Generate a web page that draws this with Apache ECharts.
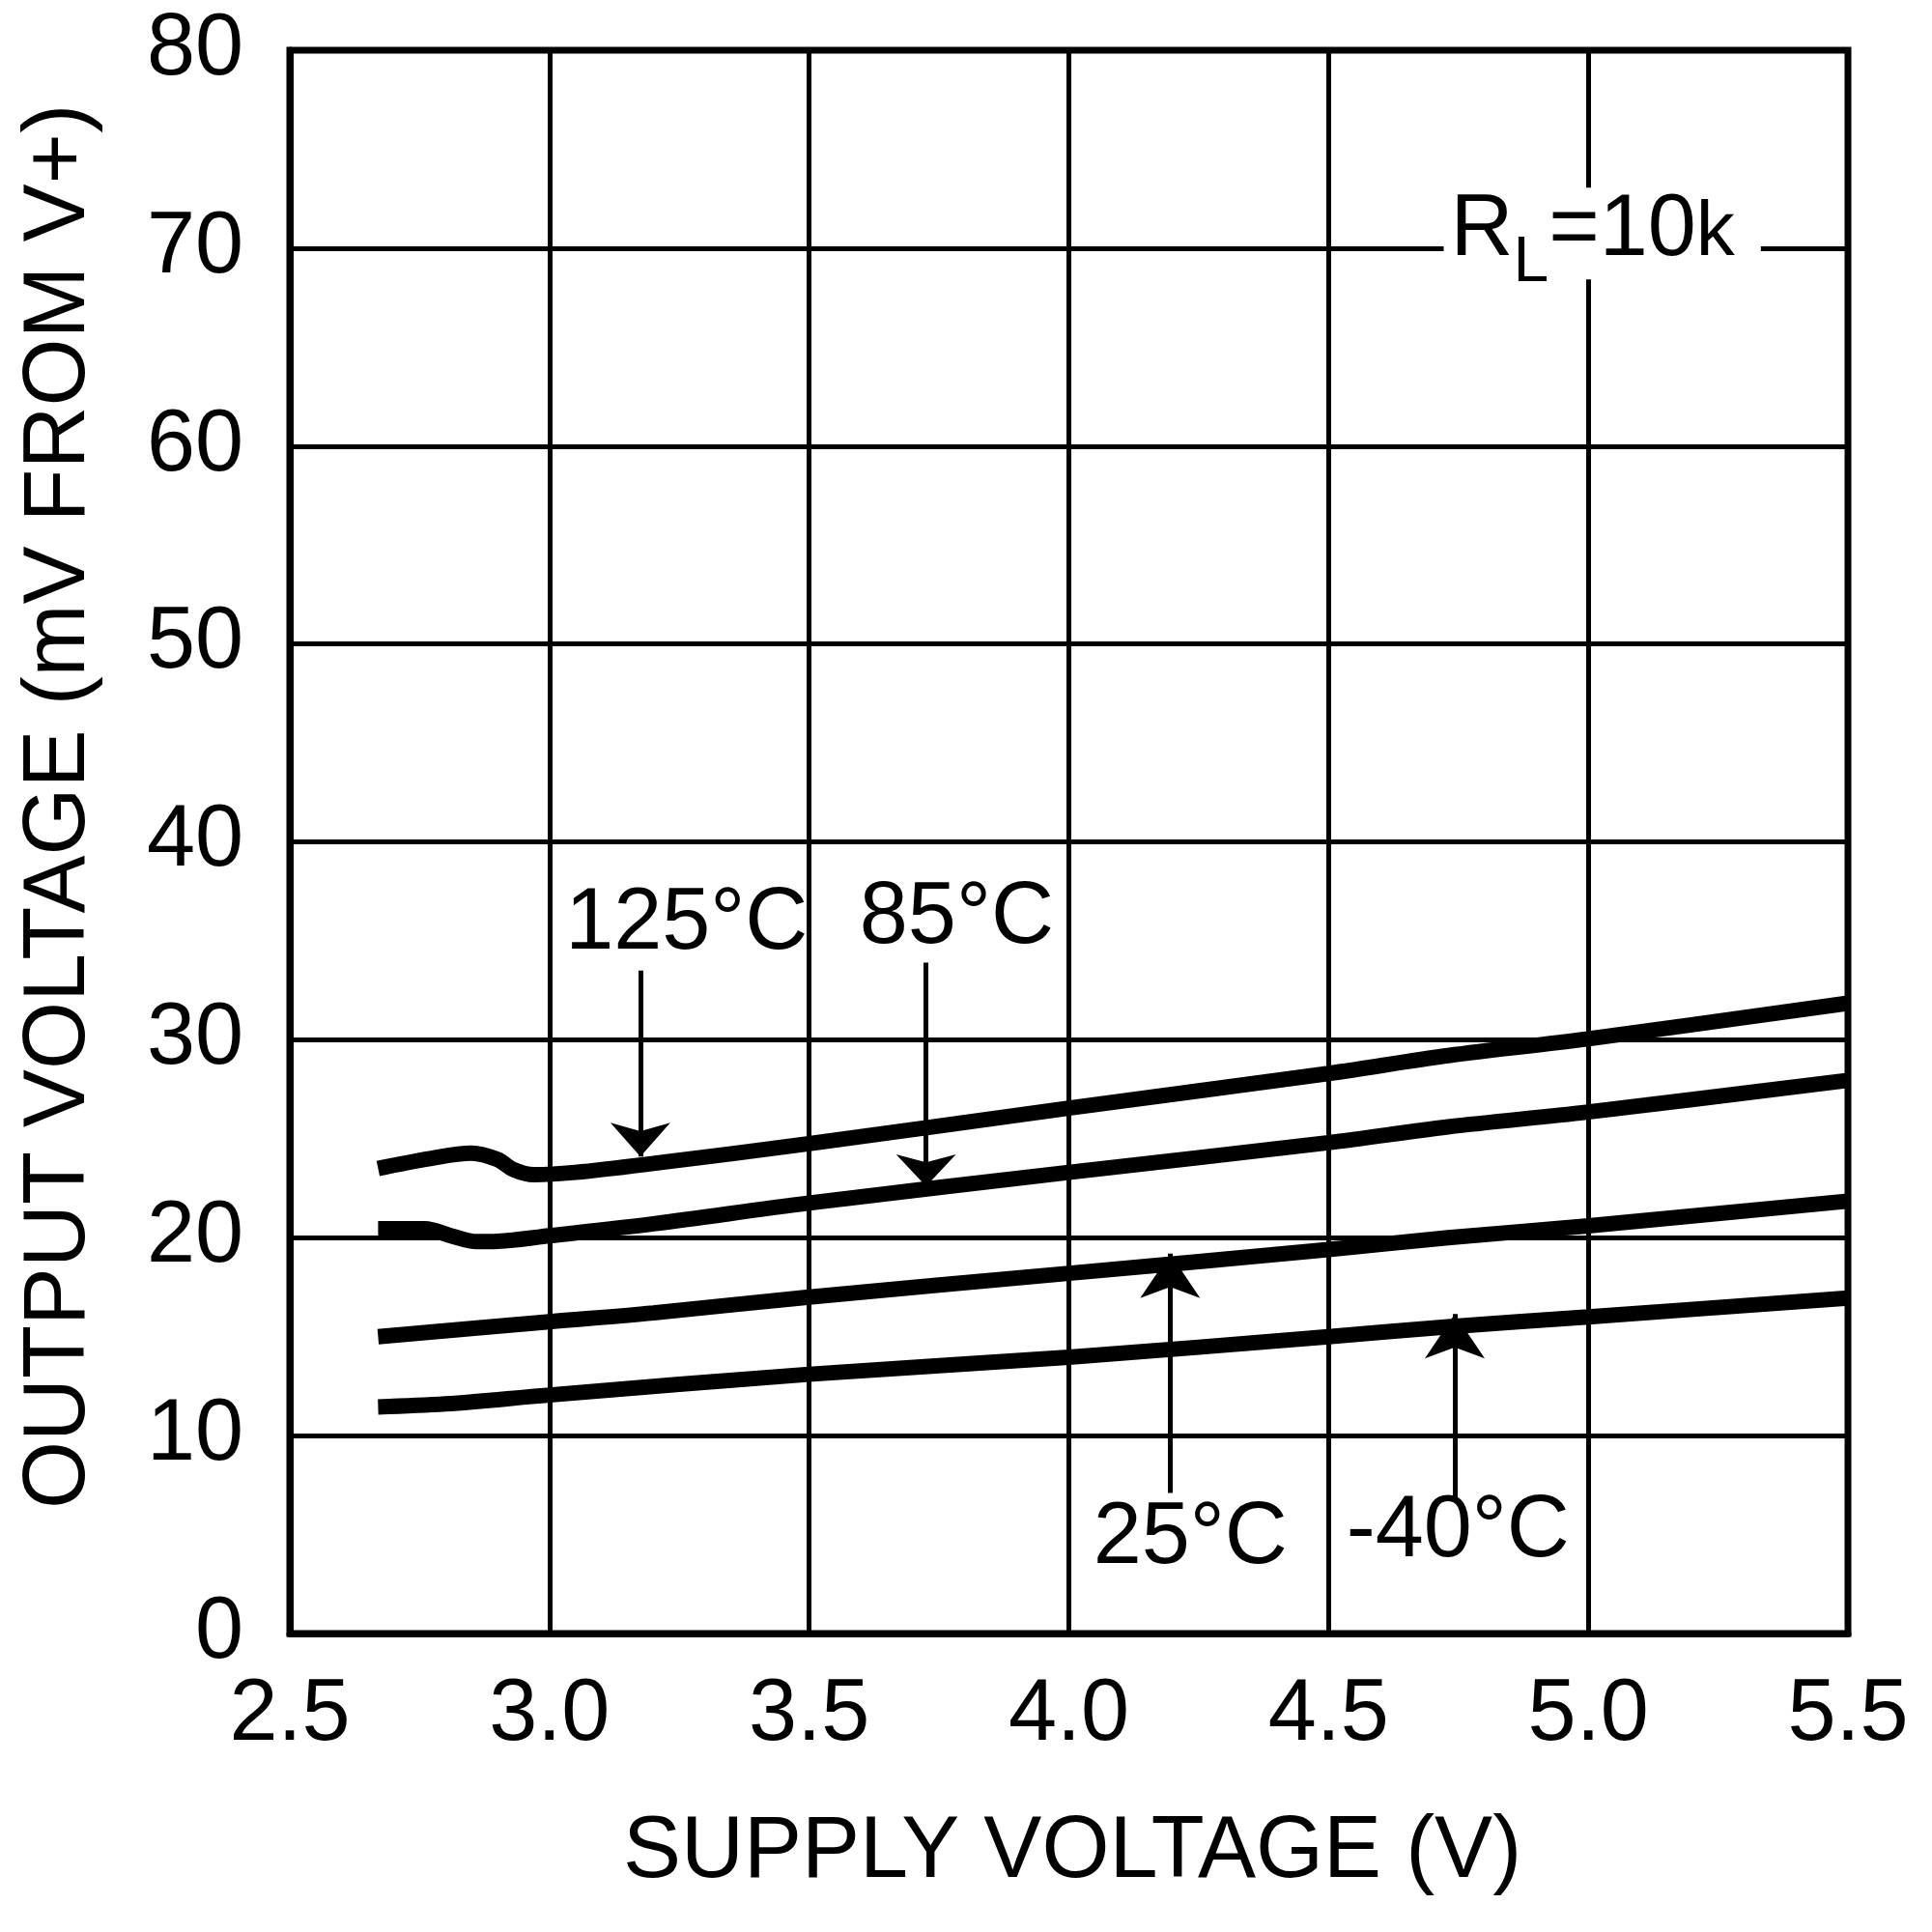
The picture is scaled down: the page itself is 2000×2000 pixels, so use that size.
<!DOCTYPE html>
<html>
<head>
<meta charset="utf-8">
<style>html,body{margin:0;padding:0;background:#fff;}#chart{width:2000px;height:2000px;}</style>
<script src="https://cdn.jsdelivr.net/npm/echarts@6/dist/echarts.min.js"></script>
</head>
<body>
<div id="chart"></div>
<script>
// ---- data (supply voltage V, output voltage mV from V+) ----
const v125 = [2.67, 2.77, 2.85, 2.90, 2.93, 2.97, 3.05, 3.20, 3.50, 4.00, 4.50, 4.73, 5.00, 5.50];
const mv125 = [23.5, 24.0, 24.27, 23.95, 23.45, 23.18, 23.3, 23.75, 24.75, 26.55, 28.3, 29.2, 30.05, 31.85];
const v85 = [2.67, 2.76, 2.81, 2.86, 2.90, 3.00, 3.20, 3.50, 4.00, 4.50, 4.73, 5.00, 5.50];
const mv85 = [20.45, 20.45, 20.1, 19.8, 19.82, 20.1, 20.7, 21.75, 23.3, 24.8, 25.6, 26.35, 27.95];
const v25 = [2.67, 3.00, 3.20, 3.50, 4.00, 4.50, 4.73, 5.00, 5.50];
const mv25 = [15.0, 15.75, 16.2, 17.0, 18.2, 19.4, 20.0, 20.6, 21.85];
const vm40 = [2.67, 2.80, 3.00, 3.50, 4.00, 4.50, 4.73, 5.00, 5.50];
const mvm40 = [11.45, 11.6, 12.05, 13.1, 13.96, 15.0, 15.5, 16.0, 16.95];

// axes
const xMin = 2.5, xMax = 5.5, xStep = 0.5;
const yMin = 0, yMax = 80, yStep = 10;

// annotations
const tempLabels = ['125°C', '85°C', '25°C', '-40°C'];
const tempLabelX = [3.264, 3.784, 4.234, 4.749];
const tempLabelY = [35.8, 36.1, 4.78, 5.12];
const arrowX = [3.175, 3.725, 4.195, 4.743];
const arrowStart = [33.5, 33.9, 7.1, 6.8];
const arrowTip = [24.1, 22.6, 19.2, 16.15];
const rlLabelPos = [5.027, 70.74];

const FONT = '"Liberation Sans", Arial, Helvetica, sans-serif';
const zip = (a, b) => a.map((x, i) => [x, b[i]]);

const lineSeries = (name, xs, ys) => ({
  name, type: 'line', data: zip(xs, ys), showSymbol: false, smooth: 0.35,
  lineStyle: { color: '#000', width: 16, cap: 'butt', opacity: 1 }, itemStyle: { color: '#000' },
  z: 5, silent: true
});

const arrowHeads = [[46.5, 35], [46.5, 33], [46.5, 46], [46.5, 46]];

const chart = echarts.init(document.getElementById('chart'), null, { renderer: 'canvas' });
chart.setOption({
  animation: false,
  backgroundColor: '#fff',
  grid: { left: 300, right: 87, top: 52, bottom: 309, show: true, borderColor: '#000', borderWidth: 7, backgroundColor: 'transparent' },
  xAxis: {
    type: 'value', min: xMin, max: xMax, interval: xStep,
    axisLine: { show: true, onZero: false, lineStyle: { color: '#000', width: 7 } },
    axisTick: { show: false },
    splitLine: { show: true, lineStyle: { color: '#000', width: 5 } },
    axisLabel: { color: '#000', fontSize: 90, fontFamily: FONT, margin: 40, formatter: v => v.toFixed(1) }
  },
  yAxis: {
    type: 'value', min: yMin, max: yMax, interval: yStep,
    axisLine: { show: true, lineStyle: { color: '#000', width: 7 } },
    axisTick: { show: false },
    splitLine: { show: true, lineStyle: { color: '#000', width: 5 } },
    axisLabel: { color: '#000', fontSize: 90, fontFamily: FONT, margin: 48 }
  },
  series: [
    lineSeries('125°C', v125, mv125),
    lineSeries('85°C', v85, mv85),
    lineSeries('25°C', v25, mv25),
    lineSeries('-40°C', vm40, mvm40),
    {
      name: 'labels', type: 'scatter', symbolSize: 0, silent: true, z: 10,
      itemStyle: { color: '#000', opacity: 1 },
      data: tempLabels.map((t, i) => ({ name: t, value: [tempLabelX[i], tempLabelY[i]] })),
      label: { show: true, position: 'inside', formatter: '{b}', color: '#000', opacity: 1, textBorderWidth: 0, fontSize: 90, fontFamily: FONT },
      markLine: {
        silent: true, animation: false, symbol: ['none', 'none'],
        label: { show: false },
        lineStyle: { color: '#000', width: 5, type: 'solid', opacity: 1 },
        itemStyle: { color: '#000', opacity: 1 },
        emphasis: { disabled: true },
        data: arrowX.map((x, i) => [
          { coord: [x, arrowStart[i]], symbol: 'none' },
          { coord: [x, arrowTip[i]], symbol: 'arrow', symbolSize: arrowHeads[i] }
        ])
      }
    },
    {
      name: 'RL', type: 'scatter', symbolSize: 0, silent: true, z: 10,
      itemStyle: { color: '#000', opacity: 1 },
      data: [{ name: 'RL', value: rlLabelPos }],
      label: {
        show: true, position: 'inside', color: '#000', opacity: 1, textBorderWidth: 0, backgroundColor: '#fff',
        padding: [0, 27, 5, 7],
        formatter: '{r|R}{s|L}{r|=10}{k|k}',
        rich: {
          r: { fontSize: 90, lineHeight: 90, verticalAlign: 'top', fontFamily: FONT, color: '#000' },
          s: { fontSize: 66, lineHeight: 66, verticalAlign: 'top', padding: [46, 0, 0, 0], fontFamily: FONT, color: '#000' },
          k: { fontSize: 80, lineHeight: 80, verticalAlign: 'top', padding: [8, 0, 0, 0], fontFamily: FONT, color: '#000' }
        }
      }
    }
  ],
  graphic: [
    { type: 'text', x: 1110, y: 1918, silent: true,
      style: { text: 'SUPPLY VOLTAGE (V)', fill: '#000', fontSize: 90, fontFamily: FONT, align: 'center', verticalAlign: 'middle' } },
    { type: 'text', x: 62, y: 835, rotation: Math.PI / 2, silent: true,
      style: { text: 'OUTPUT VOLTAGE (mV FROM V+)', fill: '#000', fontSize: 90, fontFamily: FONT, align: 'center', verticalAlign: 'middle' } }
  ]
});
</script>
</body>
</html>
